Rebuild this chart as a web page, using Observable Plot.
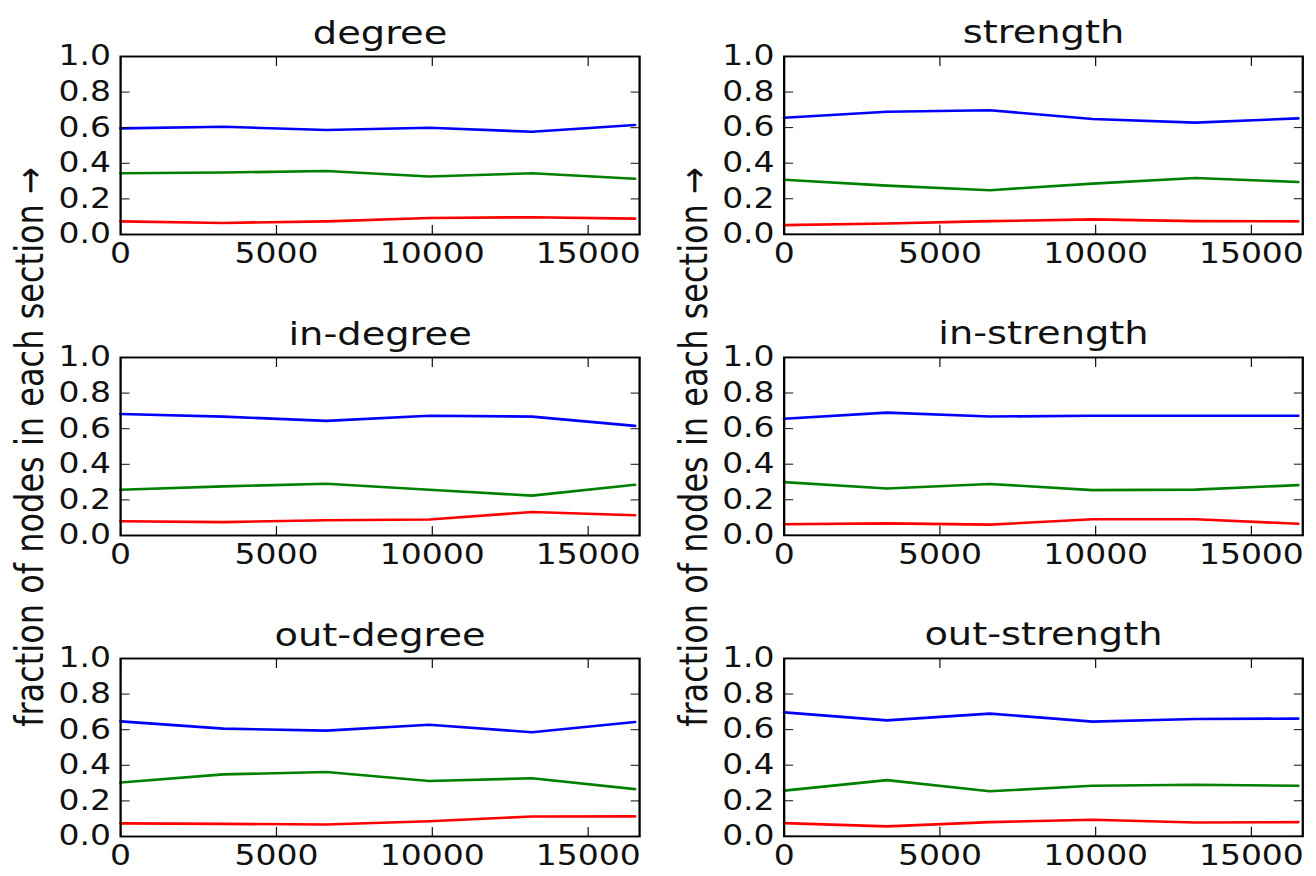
<!DOCTYPE html>
<html>
<head>
<meta charset="utf-8">
<script src="https://cdn.jsdelivr.net/npm/d3@7"></script>
<script src="https://cdn.jsdelivr.net/npm/@observablehq/plot@0.6"></script>
<style>
  html, body { margin: 0; padding: 0; background: #fff; overflow: hidden; }
  #root { position: relative; width: 1096.67px; height: 876px; transform: scaleX(1.2); transform-origin: 0 0; font-family: "DejaVu Sans", sans-serif; }
  .panel { position: absolute; }
  .panel svg { background: transparent !important; }
  .ylab { position: absolute; white-space: nowrap; font-size: 32px; color: #111; transform: translate(-50%, -50%) rotate(-90deg); line-height: 1; }
</style>
</head>
<body>
<div id="root"></div>
<script>
// ---- data ----
const xValues = [0, 3300, 6600, 9900, 13200, 16500];
const xTicks = [0, 5000, 10000, 15000];
const yTicks = [0, 0.2, 0.4, 0.6, 0.8, 1.0];
const sectionNames = ["top", "middle", "bottom"];
const sectionColors = ["#0000ff", "#008000", "#ff0000"];
const panelTitles = ["degree", "strength", "in-degree", "in-strength", "out-degree", "out-strength"];
const yLabel = "fraction of nodes in each section \u2192";

const degreeTop    = [0.596, 0.605, 0.587, 0.600, 0.577, 0.615];
const degreeMid    = [0.344, 0.348, 0.357, 0.326, 0.344, 0.313];
const degreeLow    = [0.074, 0.065, 0.074, 0.093, 0.097, 0.089];

const strengthTop  = [0.655, 0.689, 0.698, 0.648, 0.628, 0.652];
const strengthMid  = [0.307, 0.274, 0.248, 0.285, 0.317, 0.294];
const strengthLow  = [0.052, 0.061, 0.074, 0.084, 0.074, 0.073];

const inDegreeTop  = [0.683, 0.668, 0.644, 0.673, 0.668, 0.616];
const inDegreeMid  = [0.257, 0.276, 0.291, 0.257, 0.224, 0.285];
const inDegreeLow  = [0.080, 0.075, 0.086, 0.090, 0.132, 0.114];

const inStrengthTop = [0.655, 0.690, 0.668, 0.672, 0.672, 0.672];
const inStrengthMid = [0.299, 0.263, 0.289, 0.254, 0.257, 0.282];
const inStrengthLow = [0.062, 0.067, 0.060, 0.090, 0.090, 0.065];

const outDegreeTop = [0.647, 0.606, 0.595, 0.628, 0.586, 0.643];
const outDegreeMid = [0.303, 0.349, 0.362, 0.312, 0.327, 0.266];
const outDegreeLow = [0.074, 0.071, 0.067, 0.086, 0.112, 0.113];

const outStrengthTop = [0.697, 0.652, 0.690, 0.645, 0.660, 0.662];
const outStrengthMid = [0.257, 0.316, 0.253, 0.284, 0.290, 0.284];
const outStrengthLow = [0.074, 0.056, 0.080, 0.093, 0.078, 0.080];

const panelSeries = [
  [degreeTop, degreeMid, degreeLow],
  [strengthTop, strengthMid, strengthLow],
  [inDegreeTop, inDegreeMid, inDegreeLow],
  [inStrengthTop, inStrengthMid, inStrengthLow],
  [outDegreeTop, outDegreeMid, outDegreeLow],
  [outStrengthTop, outStrengthMid, outStrengthLow]
];

// ---- layout (design units; container is stretched horizontally by 1.2) ----
const FW = 432.5, FH = 178;
const ML = 60, MR = 12, MT = 56, MB = 42;
const colFrameLeft = [100, 652.5];
const rowFrameTop = [56, 357, 658];
const tickFont = 27.5, titleFont = 32;

const root = document.getElementById("root");

panelTitles.forEach((title, p) => {
  const col = p % 2, row = Math.floor(p / 2);
  const data = [];
  panelSeries[p].forEach((vals, s) => vals.forEach((v, i) => data.push({x: xValues[i], y: v, section: sectionNames[s]})));
  const blank = () => "";
  const chart = Plot.plot({
    width: FW + ML + MR,
    height: FH + MT + MB,
    marginLeft: ML, marginRight: MR, marginTop: MT, marginBottom: MB,
    style: {fontFamily: "DejaVu Sans", fontSize: tickFont + "px", color: "#111", background: "transparent", overflow: "visible"},
    x: {domain: [0, 16650]},
    y: {domain: [0, 1]},
    color: {domain: sectionNames, range: sectionColors},
    marks: [
      Plot.line(data, {x: "x", y: "y", z: "section", stroke: "section", strokeWidth: 2.6}),
      Plot.axisX(xTicks, {anchor: "bottom", tickSize: 0, tickPadding: 9, tickFormat: d3.format("d"), fontSize: tickFont, label: null}),
      Plot.axisX(xTicks, {anchor: "bottom", tickSize: -9, tickFormat: blank, label: null}),
      Plot.axisX(xTicks, {anchor: "top", tickSize: -9, tickFormat: blank, label: null}),
      Plot.axisY(yTicks, {anchor: "left", tickSize: 0, tickPadding: 8, tickFormat: d3.format(".1f"), fontSize: tickFont, label: null}),
      Plot.axisY(yTicks, {anchor: "left", tickSize: -8, tickFormat: blank, label: null}),
      Plot.axisY(yTicks, {anchor: "right", tickSize: -8, tickFormat: blank, label: null}),
      Plot.frame({stroke: "#000", strokeWidth: 1.9}),
      Plot.text([title], {frameAnchor: "top", text: d => d, dy: -13, lineAnchor: "bottom", fontSize: titleFont, fill: "#111"})
    ]
  });
  const wrap = document.createElement("div");
  wrap.className = "panel";
  wrap.style.left = (colFrameLeft[col] - ML) + "px";
  wrap.style.top = (rowFrameTop[row] - MT) + "px";
  wrap.appendChild(chart);
  root.appendChild(wrap);
});

[25, 577.5].forEach(cx => {
  const lab = document.createElement("div");
  lab.className = "ylab";
  lab.textContent = yLabel;
  lab.style.left = cx + "px";
  lab.style.top = "447px";
  root.appendChild(lab);
});
</script>
</body>
</html>
